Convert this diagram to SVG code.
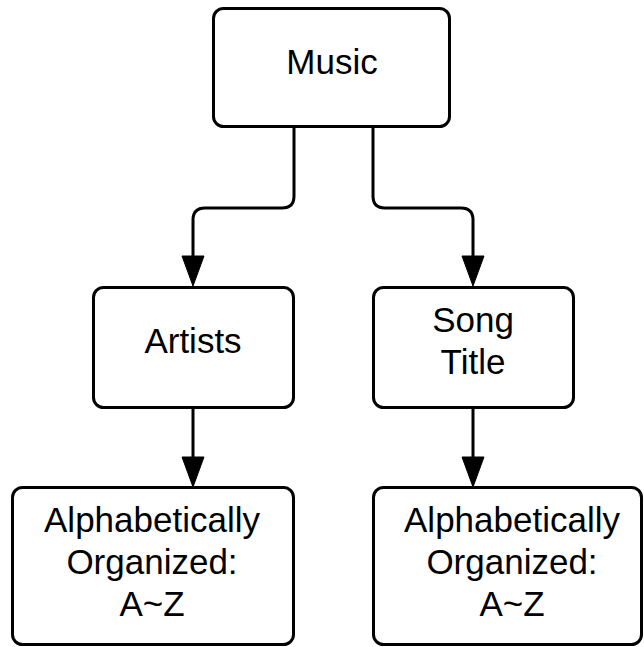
<svg xmlns="http://www.w3.org/2000/svg" width="644" height="647" viewBox="0 0 644 647">
  <style>
    .box { fill: #ffffff; stroke: #000000; stroke-width: 3; }
    .lbl { font-family: "Liberation Sans", Arial, sans-serif; font-size: 35px; fill: #000000; text-anchor: middle; }
    .wire { fill: none; stroke: #000000; stroke-width: 3; stroke-linejoin: round; }
    .head { fill: #000000; stroke: #000000; stroke-width: 1; stroke-linejoin: miter; }
  </style>
  <rect width="644" height="647" fill="#ffffff"/>

  <g id="connectors">
    <!-- Music to Artists -->
    <path class="wire" d="M294,127 V196 Q294,208 282,208 H205 Q193,208 193,220 V258"/>
    <polygon class="head" points="182,256 204,256 193,286"/>
    <!-- Music to Song Title -->
    <path class="wire" d="M373,127 V196 Q373,208 385,208 H461 Q473,208 473,220 V258"/>
    <polygon class="head" points="462,256 484,256 473,286"/>
    <!-- Artists to list -->
    <path class="wire" d="M193,408 V460"/>
    <polygon class="head" points="182,457 204,457 193,487"/>
    <!-- Song Title to list -->
    <path class="wire" d="M473,408 V460"/>
    <polygon class="head" points="462,457 484,457 473,487"/>
  </g>

  <g id="music">
    <rect class="box" x="213.5" y="8.5" width="236" height="118" rx="10"/>
    <text class="lbl" x="332" y="74">Music</text>
  </g>

  <g id="artists">
    <rect class="box" x="93.5" y="287.5" width="200" height="120" rx="10"/>
    <text class="lbl" x="193" y="353">Artists</text>
  </g>

  <g id="song-title">
    <rect class="box" x="373.5" y="287.5" width="200" height="120" rx="10"/>
    <text class="lbl" x="473" y="332">Song</text>
    <text class="lbl" x="473" y="374">Title</text>
  </g>

  <g id="artists-order">
    <rect class="box" x="12.5" y="487.5" width="281" height="157" rx="10"/>
    <text class="lbl" x="152" y="532">Alphabetically</text>
    <text class="lbl" x="152" y="574">Organized:</text>
    <text class="lbl" x="152" y="616">A~Z</text>
  </g>

  <g id="title-order">
    <rect class="box" x="373.5" y="487.5" width="268" height="157" rx="10"/>
    <text class="lbl" x="512" y="532">Alphabetically</text>
    <text class="lbl" x="512" y="574">Organized:</text>
    <text class="lbl" x="512" y="616">A~Z</text>
  </g>
</svg>
